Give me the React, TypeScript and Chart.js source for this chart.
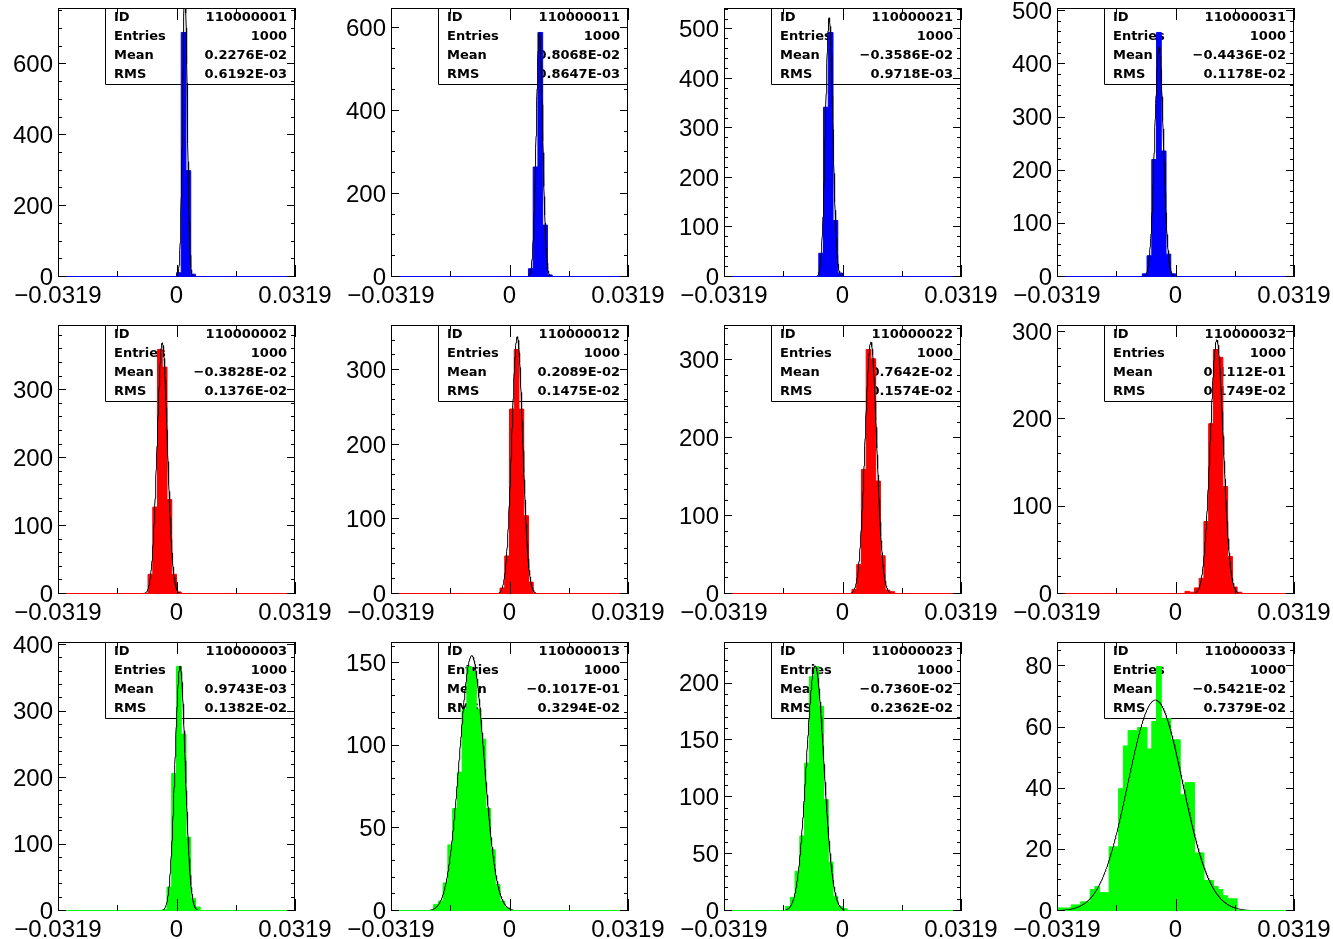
import React, { useEffect, useRef } from "react";
import { Chart, registerables } from "chart.js";

Chart.register(...registerables);

// ---- axis definitions ----
const X_MIN = -0.0319;
const X_MAX = 0.0319;
const N_BINS = 50;
const xTickValues = [-0.0319, 0, 0.0319];
const xTickLabels = ["\u22120.0319", "0", "0.0319"];
const xMinorValues = [-0.01595, 0.01595];

// ---- panels in grid order (row by row) ----
const ids = [
  "110000001", "110000011", "110000021", "110000031",
  "110000002", "110000012", "110000022", "110000032",
  "110000003", "110000013", "110000023", "110000033",
];
const entries = [1000, 1000, 1000, 1000, 1000, 1000, 1000, 1000, 1000, 1000, 1000, 1000];
const meanText = [
  "0.2276E-02", "0.8068E-02", "\u22120.3586E-02", "\u22120.4436E-02",
  "\u22120.3828E-02", "0.2089E-02", "0.7642E-02", "0.1112E-01",
  "0.9743E-03", "\u22120.1017E-01", "\u22120.7360E-02", "\u22120.5421E-02",
];
const rmsText = [
  "0.6192E-03", "0.8647E-03", "0.9718E-03", "0.1178E-02",
  "0.1376E-02", "0.1475E-02", "0.1574E-02", "0.1749E-02",
  "0.1382E-02", "0.3294E-02", "0.2362E-02", "0.7379E-02",
];
const meanVal = [
  0.002276, 0.008068, -0.003586, -0.004436,
  -0.003828, 0.002089, 0.007642, 0.01112,
  0.0009743, -0.01017, -0.00736, -0.005421,
];
const rmsVal = [
  0.0006192, 0.0008647, 0.0009718, 0.001178,
  0.001376, 0.001475, 0.001574, 0.001749,
  0.001382, 0.003294, 0.002362, 0.007379,
];

// first non-empty bin of each histogram
const binStart = [25, 29, 20, 18, 18, 23, 27, 27, 22, 9, 13, 0];

const counts01 = [12, 690, 300, 8];
const counts11 = [20, 265, 589, 125, 5];
const counts21 = [48, 343, 494, 114, 8];
const counts31 = [6, 40, 221, 460, 237, 43, 6];
const counts02 = [1, 29, 128, 360, 334, 139, 29, 3];
const counts12 = [8, 51, 248, 328, 248, 105, 16];
const counts22 = [6, 38, 160, 314, 302, 145, 49, 5, 3];
const counts32 = [3, 2, 7, 18, 83, 195, 280, 271, 123, 43, 8, 2];
const counts03 = [2, 36, 207, 368, 266, 111, 19, 6];
const counts13 = [4, 6, 17, 40, 62, 84, 122, 148, 145, 122, 104, 62, 37, 16, 6, 2];
const counts23 = [4, 12, 35, 66, 130, 206, 215, 180, 98, 43, 13, 4, 2];
const counts33 = [
  1, 1, 1, 2, 2, 3, 3, 7, 8, 6, 6, 21, 21, 40, 54, 59, 59, 60, 60, 53,
  62, 80, 63, 63, 56, 56, 38, 42, 42, 19, 19, 10, 10, 8, 7, 5, 4, 4,
];
const countsList = [
  counts01, counts11, counts21, counts31,
  counts02, counts12, counts22, counts32,
  counts03, counts13, counts23, counts33,
];

const yStep = [200, 200, 100, 100, 100, 100, 100, 100, 100, 50, 50, 20];
const yMinor = [50, 50, 20, 20, 20, 20, 20, 20, 20, 10, 10, 5];
const rowColors = ["#0000ff", "#ff0000", "#00ff00"];

// ---- layout ----
const CANVAS_W = 333;
const CANVAS_H = 305;
const PAD = { left: 58, top: 8, right: 38, bottom: 28 };
const ROW_PITCH = 317;

const TICK_FONT = '24px "Liberation Sans", Arial, sans-serif';
const STAT_FONT = 'bold 13px "DejaVu Sans", sans-serif';

function Panel({ idx }: { idx: number }) {
  const ref = useRef<HTMLCanvasElement | null>(null);

  useEffect(() => {
    const canvas = ref.current;
    if (!canvas) return;
    const color = rowColors[Math.floor(idx / 4)];
    const binW = (X_MAX - X_MIN) / N_BINS;
    const full = new Array(N_BINS).fill(0);
    countsList[idx].forEach((v, k) => {
      full[binStart[idx] + k] = v;
    });
    const histPts = full.map((v, i) => ({ x: X_MIN + i * binW, y: v }));
    histPts.push({ x: X_MAX, y: 0 });

    const mu = meanVal[idx];
    const sg = rmsVal[idx];
    const amp = (entries[idx] * binW) / (sg * Math.sqrt(2 * Math.PI));
    const fitPts: { x: number; y: number }[] = [];
    const NF = 900;
    for (let i = 0; i <= NF; i++) {
      const x = X_MIN + ((X_MAX - X_MIN) * i) / NF;
      fitPts.push({ x, y: amp * Math.exp(-0.5 * ((x - mu) / sg) ** 2) });
    }
    const yMax = Math.max(...countsList[idx]) * 1.1;

    const pawPlugin = {
      id: "paw",
      beforeDatasetsDraw(chart: any) {
        const ctx = chart.ctx as CanvasRenderingContext2D;
        const a = chart.chartArea;
        ctx.save();
        ctx.strokeStyle = "#000";
        ctx.lineWidth = 1;
        // stats box
        const bx = Math.round(a.left + 47) + 0.5;
        const by = Math.round(a.top) + 0.5;
        const bb = Math.round(a.top + 76) + 0.5;
        const br = Math.round(a.right) - 0.5;
        ctx.beginPath();
        ctx.moveTo(bx, by);
        ctx.lineTo(bx, bb);
        ctx.lineTo(br, bb);
        ctx.stroke();
        ctx.fillStyle = "#000";
        ctx.font = STAT_FONT;
        ctx.textBaseline = "middle";
        const labels = ["ID", "Entries", "Mean", "RMS"];
        const values = [ids[idx], String(entries[idx]), meanText[idx], rmsText[idx]];
        for (let r = 0; r < 4; r++) {
          const ty = a.top + 9.5 + 19 * r;
          ctx.textAlign = "left";
          ctx.fillText(labels[r], bx + 8.5, ty);
          ctx.textAlign = "right";
          ctx.fillText(values[r], a.right - 8, ty);
        }
        // frame
        ctx.strokeRect(
          Math.round(a.left) + 0.5,
          Math.round(a.top) + 0.5,
          Math.round(a.right - a.left) - 1,
          Math.round(a.bottom - a.top) - 1
        );
        ctx.restore();
      },
      afterDatasetsDraw(chart: any) {
        const ctx = chart.ctx as CanvasRenderingContext2D;
        const a = chart.chartArea;
        const xs = chart.scales.x;
        const ys = chart.scales.y;
        ctx.save();
        ctx.strokeStyle = "#000";
        ctx.lineWidth = 1;
        ctx.beginPath();
        // y ticks
        const ratio = Math.round(yStep[idx] / yMinor[idx]);
        const nMinor = Math.floor(yMax / yMinor[idx] + 1e-9);
        for (let k = 0; k <= nMinor; k++) {
          const v = k * yMinor[idx];
          const py = Math.round(ys.getPixelForValue(v)) - 0.5;
          const len = k % ratio === 0 ? 8 : 4;
          ctx.moveTo(a.left, py);
          ctx.lineTo(a.left + len, py);
          ctx.moveTo(a.right, py);
          ctx.lineTo(a.right - len, py);
        }
        // x ticks
        xTickValues.forEach((v) => {
          const px = Math.round(xs.getPixelForValue(v)) + 0.5;
          ctx.moveTo(px, a.bottom);
          ctx.lineTo(px, a.bottom - 12);
          ctx.moveTo(px, a.top);
          ctx.lineTo(px, a.top + 12);
        });
        xMinorValues.forEach((v) => {
          const px = Math.round(xs.getPixelForValue(v)) + 0.5;
          ctx.moveTo(px, a.bottom);
          ctx.lineTo(px, a.bottom - 6);
          ctx.moveTo(px, a.top);
          ctx.lineTo(px, a.top + 6);
        });
        ctx.stroke();
        // labels
        ctx.fillStyle = "#000";
        ctx.font = TICK_FONT;
        ctx.textAlign = "right";
        ctx.textBaseline = "middle";
        for (let k = 0; k <= nMinor; k += ratio) {
          const v = k * yMinor[idx];
          ctx.fillText(String(v), a.left - 5, ys.getPixelForValue(v) + 1);
        }
        ctx.textAlign = "center";
        ctx.textBaseline = "alphabetic";
        xTickValues.forEach((v, i) => {
          ctx.fillText(xTickLabels[i], xs.getPixelForValue(v), a.bottom + 26);
        });
        ctx.restore();
      },
    };

    const chart = new Chart(canvas, {
      type: "line",
      data: {
        datasets: [
          {
            data: [
              { x: X_MIN, y: 0 },
              { x: X_MAX, y: 0 },
            ],
            borderColor: color,
            borderWidth: 2,
            pointRadius: 0,
            fill: false,
          },
          {
            data: fitPts,
            borderColor: "#000",
            borderWidth: 1,
            pointRadius: 0,
            fill: false,
            tension: 0,
          },
          {
            data: histPts,
            borderColor: color,
            backgroundColor: color,
            borderWidth: 1,
            pointRadius: 0,
            stepped: true,
            fill: "origin",
          },
        ],
      },
      options: {
        responsive: false,
        animation: false,
        devicePixelRatio: 1,
        events: [],
        layout: { padding: PAD },
        plugins: {
          legend: { display: false },
          tooltip: { enabled: false },
          title: { display: false },
        },
        scales: {
          x: { type: "linear", min: X_MIN, max: X_MAX, display: false },
          y: { type: "linear", min: 0, max: yMax, display: false },
        },
      },
      plugins: [pawPlugin],
    } as any);
    return () => chart.destroy();
  }, [idx]);

  const r = Math.floor(idx / 4);
  const c = idx % 4;
  return (
    <canvas
      ref={ref}
      width={CANVAS_W}
      height={CANVAS_H}
      style={{
        position: "absolute",
        left: c * CANVAS_W,
        top: r * ROW_PITCH,
        width: CANVAS_W,
        height: CANVAS_H,
      }}
    />
  );
}

export default function App() {
  return (
    <div
      style={{
        position: "absolute",
        left: 0,
        top: 0,
        width: 1333,
        height: 939,
        background: "#fff",
        overflow: "hidden",
      }}
    >
      {ids.map((_, i) => (
        <Panel key={i} idx={i} />
      ))}
    </div>
  );
}
